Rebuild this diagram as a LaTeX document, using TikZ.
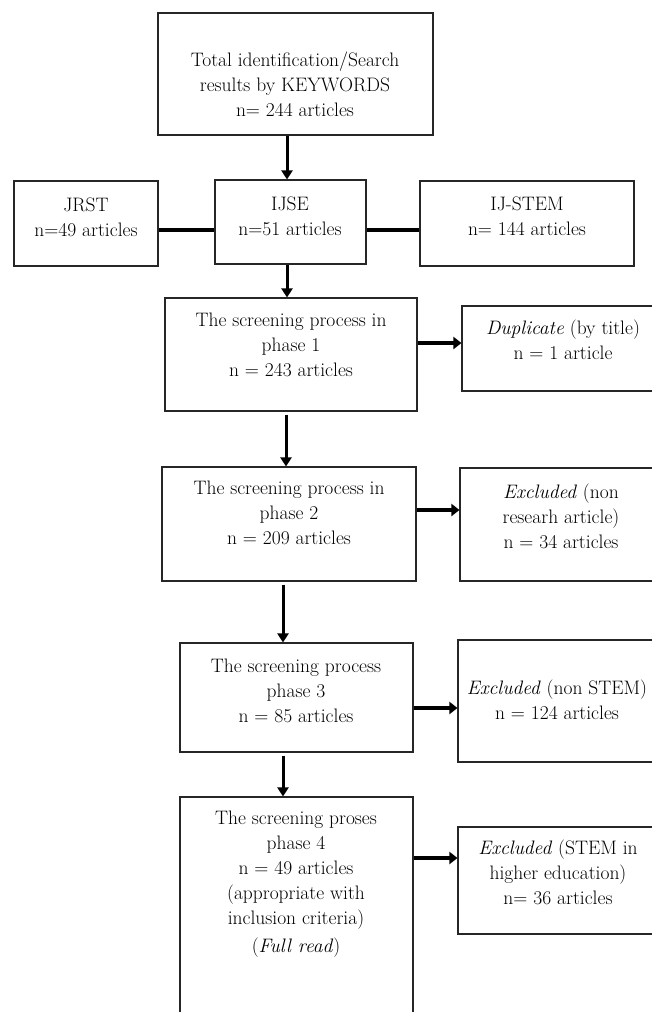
\documentclass[tikz,border=0pt]{standalone}
\usetikzlibrary{arrows.meta}
\tikzset{
  box/.style={draw=black!85, line width=1.1pt, inner sep=0pt, rectangle},
  txt/.style={align=center, font=\fontsize{19.5}{25}\selectfont, inner sep=0pt},
  arr/.style={line width=3pt, -{Triangle[length=9pt,width=11pt]}},
  harr/.style={line width=4pt, -{Triangle[length=8pt,width=12pt]}},
  link/.style={line width=4pt},
}
\begin{document}
\begin{tikzpicture}[x=1pt,y=-1pt]
\useasboundingbox (0,0) rectangle (652,1012);
% boxes
\node[box, minimum width=275pt, minimum height=122pt] (top) at (295.5,74) {};
\node[box, minimum width=144pt, minimum height=85pt] (jrst) at (86,223.5) {};
\node[box, minimum width=151pt, minimum height=84pt] (ijse) at (290.5,222) {};
\node[box, minimum width=214pt, minimum height=85pt] (ijstem) at (527,223.5) {};
\node[box, minimum width=252pt, minimum height=113pt] (p1) at (291,354.5) {};
\node[box, minimum width=200pt, minimum height=85pt] (dup) at (562,348.5) {};
\node[box, minimum width=254pt, minimum height=114pt] (p2) at (289,524) {};
\node[box, minimum width=202pt, minimum height=113pt] (ex2) at (561,524.5) {};
\node[box, minimum width=233pt, minimum height=109pt] (p3) at (296.5,697.5) {};
\node[box, minimum width=204pt, minimum height=122pt] (ex3) at (560,701) {};
\node[box, minimum width=233pt, minimum height=233pt] (p4) at (296.5,913.5) {};
\node[box, minimum width=204pt, minimum height=107pt] (ex4) at (560,880.5) {};
% texts
\node[txt] (ttop) at (295,84.5) {Total identification/Search\\results by KEYWORDS\\n= 244 articles};
\node[txt] (tjrst) at (86,217) {JRST\\n=49 articles};
\node[txt] (tijse) at (290,216) {IJSE\\n=51 articles};
\node[txt] (tijstem) at (527,216) {IJ-STEM\\n= 144 articles};
\node[txt] (tp1) at (291,345) {The screening process in\\phase 1\\n = 243 articles};
\node[txt] (tdup) at (563,340) {\textit{Duplicate} (by title)\\n = 1 article};
\node[txt] (tp2) at (289,513) {The screening process in\\phase 2\\n = 209 articles};
\node[txt] (tex2) at (561,516) {\textit{Excluded} (non\\researh article)\\n = 34 articles};
\node[txt] (tp3) at (296,691) {The screening process\\phase 3\\n = 85 articles};
\node[txt] (tex3) at (557,700) {\textit{Excluded} (non STEM)\\n = 124 articles};
\node[txt] (tp4) at (296,884) {The screening proses\\phase 4\\n = 49 articles\\(appropriate with\\inclusion criteria)\\[3pt](\textit{Full read})};
\node[txt] (tex4) at (558,872) {\textit{Excluded} (STEM in\\higher education)\\n= 36 articles};
% connectors
\draw[arr] ([xshift=-3.5pt]ijse.north |- top.south) -- ([xshift=-3.5pt]ijse.north);
\draw[link] ([yshift=-6.5pt]jrst.east) -- ([yshift=-6.5pt]jrst.east -| ijse.west);
\draw[link] ([yshift=-8pt]ijse.east) -- ([yshift=-8pt]ijse.east -| ijstem.west);
\draw[arr] ([xshift=-3.5pt]ijse.south) -- ([xshift=-3.5pt]ijse.south |- p1.north);
\draw[arr] ([xshift=-5pt,yshift=-3pt]p1.south) -- ([xshift=-5pt]p1.south |- p2.north);
\draw[arr] ([xshift=-6pt,yshift=-3pt]p2.south) -- ([xshift=-6pt]p2.south |- p3.north);
\draw[arr] ([xshift=-13.5pt,yshift=-3pt]p3.south) -- ([xshift=-13.5pt]p3.south |- p4.north);
\draw[harr] ([yshift=11.5pt]p1.east) -- ([yshift=11.5pt]p1.east -| dup.west);
\draw[harr] ([yshift=14pt]p2.east) -- ([yshift=14pt]p2.east -| ex2.west);
\draw[harr] ([yshift=-10.5pt]p3.east) -- ([yshift=-10.5pt]p3.east -| ex3.west);
\draw[harr] ([yshift=55.5pt]p4.east) -- ([yshift=55.5pt]p4.east -| ex4.west);
\end{tikzpicture}
\end{document}
